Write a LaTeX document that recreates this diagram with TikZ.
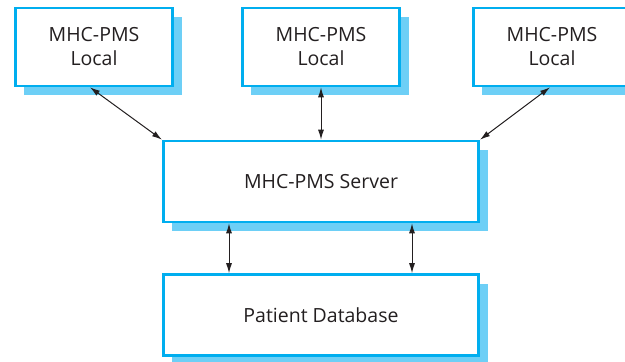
\documentclass[tikz,border=0pt]{standalone}
\usepackage{fontspec}
\setmainfont{Open Sans}
\usetikzlibrary{shadows,calc,arrows.meta}
\definecolor{boxblue}{HTML}{00AEEF}
\definecolor{shadowblue}{HTML}{6DCFF6}
\definecolor{txt}{HTML}{231F20}
\tikzset{
  sysbox/.style={draw=boxblue, line width=2.6pt, fill=white, inner sep=0pt,
    align=center, text=txt, font=\fontsize{19.5}{24}\selectfont,
    drop shadow={shadow xshift=9pt, shadow yshift=-9pt, fill=shadowblue, opacity=1}},
  localbox/.style={sysbox, minimum width=157.5pt, minimum height=78pt},
  widebox/.style={sysbox, minimum width=315.5pt, minimum height=81pt},
  link/.style={{Latex[length=10pt,width=6pt]}-{Latex[length=10pt,width=6pt]}, line width=1pt, draw=txt}
}
\begin{document}
\begin{tikzpicture}[x=1pt,y=-1pt]
\useasboundingbox (0,0) rectangle (625,362);
\clip (0,0) rectangle (625,362);
\node[localbox] (b1) at (94,47) {MHC-PMS\\Local};
\node[localbox] (b2) at (321,47) {MHC-PMS\\Local};
\node[localbox] (b3) at (552,47) {MHC-PMS\\Local};
\node[widebox] (srv) at (321,181.5) {MHC-PMS Server};
\node[widebox] (db) at (321,315) {Patient Database};
\draw[link] ($(b1.south)+(-4,0)$) -- (srv.north west);
\draw[link] (b2.south) -- (srv.north);
\draw[link] ($(b3.south)+(-2,0)$) -- (srv.north east);
\draw[link] ($(srv.south)+(-92,0)$) -- ($(db.north)+(-92,0)$);
\draw[link] ($(srv.south)+(91,0)$) -- ($(db.north)+(91,0)$);
\end{tikzpicture}
\end{document}
